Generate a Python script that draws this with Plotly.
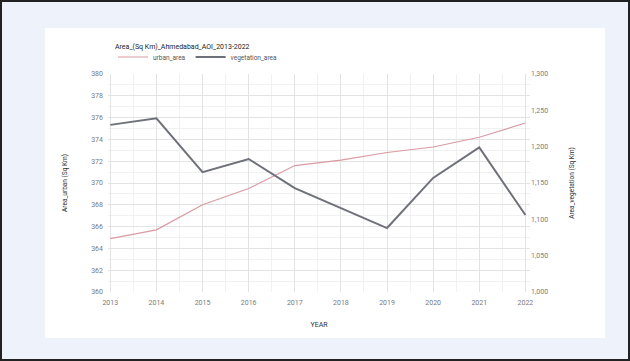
import plotly.graph_objects as go

# Yearly land-cover area for the Ahmedabad AOI
years = [2013, 2014, 2015, 2016, 2017, 2018, 2019, 2020, 2021, 2022]
urban_area = [364.9, 365.7, 368.0, 369.5, 371.6, 372.1, 372.8, 373.3, 374.2, 375.5]
vegetation_area = [1230, 1239, 1165, 1183, 1143, 1116, 1088, 1157, 1199, 1106]

title_text = "Area_(Sq Km)_Ahmedabad_AOI_2013-2022"
left_ticks = [360, 362, 364, 366, 368, 370, 372, 374, 376, 378, 380]
right_ticks = [1000, 1050, 1100, 1150, 1200, 1250, 1300]

W, H = 630, 361
L, R, T, B = 108, 100, 74, 69
pw, ph = W - L - R, H - T - B

def px_x(v):
    return (v - L) / pw

def px_y(v):
    return (H - B - v) / ph

fig = go.Figure()
fig.add_trace(go.Scatter(x=years, y=urban_area, name="urban_area", mode="lines",
                         line=dict(color="#d99aa3", width=1.2), yaxis="y"))
fig.add_trace(go.Scatter(x=years, y=vegetation_area, name="vegetation_area", mode="lines",
                         line=dict(color="#6e7179", width=2), yaxis="y2"))

tick_font = dict(family="Roboto", size=7, color="#7a7a7a")
fig.update_layout(
    width=W, height=H,
    margin=dict(l=L, r=R, t=T, b=B),
    paper_bgcolor="#eef3fb",
    plot_bgcolor="white",
    font=dict(family="Roboto", size=7, color="#444444"),
    title=dict(text=title_text, x=115 / W, xanchor="left",
               y=1 - 47 / H, yanchor="middle",
               font=dict(size=7, color="#222222")),
    showlegend=True,
    legend=dict(orientation="h", x=px_x(113), y=px_y(57), xanchor="left", yanchor="middle",
                font=dict(size=6.5, color="#555555"), bgcolor="rgba(0,0,0,0)",
                itemwidth=30),
    xaxis=dict(
        title=dict(text="YEAR", font=dict(size=7, color="#333333"), standoff=16),
        tickmode="array", tickvals=years, ticktext=[str(y) for y in years],
        range=[years[0] - 0.05, years[-1] + 0.1],
        tickfont=tick_font, ticklabelstandoff=5,
        showgrid=True, gridcolor="#e3e3e3", gridwidth=1,
        minor=dict(dtick=0.5, showgrid=True, gridcolor="#f1f1f1"),
        zeroline=False, showline=False, ticks="",
    ),
    yaxis=dict(
        title=dict(text="Area_urban (Sq Km)", font=dict(size=6.5, color="#333333"), standoff=22),
        range=[360, 380], tickvals=left_ticks, tickfont=tick_font, ticklabelstandoff=4,
        showgrid=True, gridcolor="#e3e3e3",
        minor=dict(dtick=1, showgrid=True, gridcolor="#f1f1f1"),
        zeroline=False, showline=False, ticks="",
    ),
    yaxis2=dict(
        title=dict(text="Area_vegetation (Sq Km)", font=dict(size=6.5, color="#333333"), standoff=22),
        overlaying="y", side="right",
        range=[1000, 1300], tickvals=right_ticks, tickformat=",d", tickfont=tick_font,
        showgrid=False, zeroline=False, showline=False, ticks="",
    ),
    shapes=[
        # white card behind the chart
        dict(type="rect", xref="paper", yref="paper", layer="below",
             x0=px_x(45), x1=px_x(605), y0=px_y(338), y1=px_y(28),
             fillcolor="white", line=dict(width=0)),
        # outer frame
        dict(type="rect", xref="paper", yref="paper", layer="above",
             x0=px_x(1), x1=px_x(629), y0=px_y(360), y1=px_y(1),
             fillcolor="rgba(0,0,0,0)", line=dict(color="#222222", width=2)),
    ],
)

fig.write_html("out.html")
